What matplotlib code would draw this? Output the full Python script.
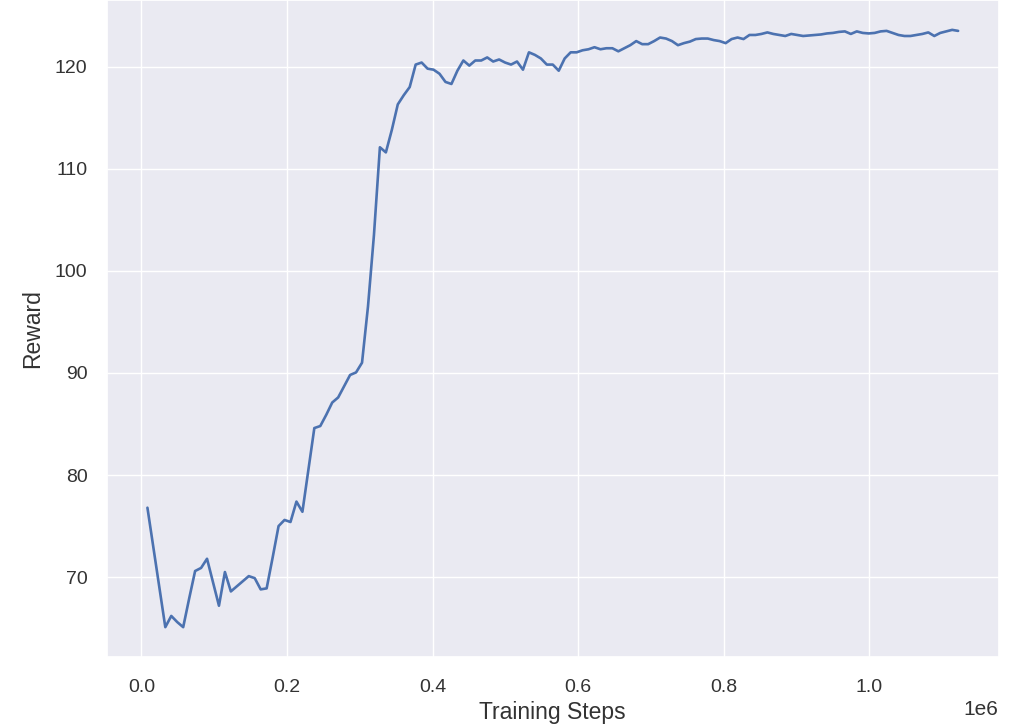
import numpy as np
import matplotlib
matplotlib.use("Agg")
import matplotlib.pyplot as plt
import seaborn as sns

# Evaluation every 8192 environment steps
step_size = 8192
reward = [
    76.8, 72.9, 69.0, 65.1, 66.2, 65.6, 65.1, 67.9, 70.6, 70.9,
    71.8, 69.5, 67.2, 70.5, 68.6, 69.1, 69.6, 70.1, 69.9, 68.8,
    68.9, 71.9, 75.0, 75.6, 75.4, 77.4, 76.4, 80.5, 84.6, 84.8,
    85.9, 87.1, 87.6, 88.7, 89.8, 90.05, 91.0, 96.5, 103.5, 112.1,
    111.6, 113.8, 116.3, 117.2, 118.0, 120.2, 120.4, 119.8, 119.7, 119.3,
    118.5, 118.3, 119.6, 120.6, 120.1, 120.6, 120.6, 120.9, 120.5, 120.7,
    120.4, 120.2, 120.5, 119.7, 121.4, 121.15, 120.8, 120.2, 120.2, 119.6,
    120.8, 121.4, 121.4, 121.6, 121.7, 121.9, 121.7, 121.8, 121.8, 121.5,
    121.8, 122.1, 122.5, 122.2, 122.2, 122.5, 122.85, 122.75, 122.5, 122.1,
    122.3, 122.45, 122.7, 122.75, 122.75, 122.6, 122.5, 122.3, 122.7, 122.85,
    122.7, 123.1, 123.1, 123.2, 123.35, 123.2, 123.1, 123.0, 123.2, 123.1,
    123.0, 123.05, 123.1, 123.15, 123.25, 123.3, 123.4, 123.45, 123.2, 123.45,
    123.3, 123.25, 123.3, 123.45, 123.5, 123.3, 123.1, 123.0, 123.0, 123.1,
    123.2, 123.35, 123.0, 123.3, 123.45, 123.6, 123.5,
]
steps = step_size * np.arange(1, len(reward) + 1)

sns.set_theme(style="darkgrid")
plt.rcParams["font.family"] = ["Liberation Sans", "DejaVu Sans"]

fig = plt.figure(figsize=(10.18, 7.24), dpi=100)
ax = fig.add_axes([0.105, 0.0925, 0.876, 0.9075])

ax.plot(steps, reward, color="#4C72B0", linewidth=1.9)

ax.set_xlabel("Training Steps", fontsize=16.5, color="#333333", labelpad=4)
ax.set_ylabel("Reward", fontsize=16.5, color="#333333", labelpad=8)
ax.tick_params(axis="x", labelsize=14, colors="#333333", pad=9.5)
ax.tick_params(axis="y", labelsize=14, colors="#333333", pad=8)
ax.xaxis.get_offset_text().set_fontsize(15)
ax.xaxis.get_offset_text().set_color("#333333")

fig.savefig("out.png", dpi=100)
